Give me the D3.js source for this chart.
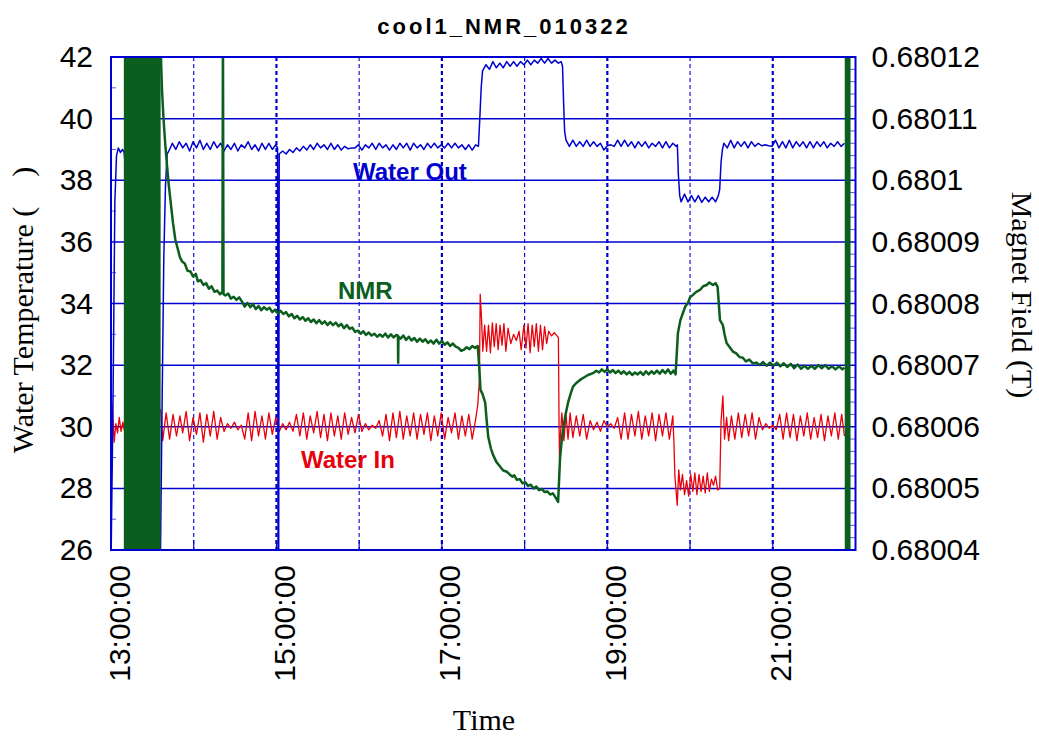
<!DOCTYPE html>
<html>
<head>
<meta charset="utf-8">
<script src="https://cdn.jsdelivr.net/npm/d3@7"></script>
<style>
  body { margin: 0; background: #fff; }
  text { font-family: "Liberation Sans", Arial, sans-serif; }
  .serif { font-family: "Liberation Serif", "Times New Roman", serif; }
</style>
</head>
<body>
<svg id="chart" width="1039" height="736"></svg>
<script>
// ---- data ---------------------------------------------------------------
const chartTitle = "cool1_NMR_010322";
const runStart = new Date(2001, 2, 22, 13, 0, 0);
const runEnd = new Date(2001, 2, 22, 22, 0, 0);
const timeTickHours = [13, 15, 17, 19, 21];
const gridHours = [14, 15, 16, 17, 18, 19, 20, 21];
const tempTicks = [26, 28, 30, 32, 34, 36, 38, 40, 42];
const fieldTicks = [0.68004, 0.68005, 0.68006, 0.68007, 0.68008, 0.68009, 0.6801, 0.68011, 0.68012];

// [minutes after 13:00, outlet water temperature in °C]
const waterOut = [
  [0,25.5],[1.5,31.0],[2.8,37.3],[4.0,38.8],[5.3,39.05],[6.8,38.9],[8.3,39.0],[9.5,38.9],
  [35.8,25.5],[37,30.5],[38.3,35.5],[39.5,37.8],[40.7,38.85],
  [42,38.95],[44.5,39.2],[47,39.0],[49.5,39.25],[52,39.05],[54.5,39.2],[57,38.95],[59.5,39.25],[62,39.05],[64.5,39.3],
  [67,39.0],[69.5,39.2],[72,39.0],[74.5,39.25],[77,39.05],[79.5,39.2],[82,38.95],[84.5,39.15],[87,39.0],[89.5,39.2],
  [92,38.95],[94.5,39.15],[97,39.05],[99.5,39.25],[102,39.0],[104.5,39.15],[107,38.95],[109.5,39.2],[112,39.0],
  [114.5,39.2],[117,39.0],[119.5,39.15],[120.8,39.05],[121.2,25.0],[121.6,25.0],[122,38.85],
  [124.5,38.95],[127,38.85],[129.5,39.0],[132,38.9],[134.5,39.05],[137,38.95],[139.5,39.1],[142,38.98],[144.5,39.15],
  [147,39.0],[149.5,39.2],[152,39.05],[154.5,39.15],[157,39.0],[159.5,39.2],[162,39.0],[164.5,39.15],[167,38.98],
  [169.5,39.1],[172,39.02],[174.5,39.05],[177,39.05],[179.5,39.15],[182,38.98],[184.5,39.15],[187,39.05],[189.5,39.2],
  [192,39.0],[194.5,39.2],[197,39.05],[199.5,39.15],[202,38.98],[204.5,39.15],[207,39.0],[209.5,39.2],[212,39.05],
  [214.5,39.2],[217,38.98],[219.5,39.2],[222,39.05],[224.5,39.15],[227,39.0],[229.5,39.2],[232,39.05],[234.5,39.2],
  [237,39.05],[239.5,39.15],[242,39.05],[244.5,39.2],[247,39.05],[249.5,39.2],[252,39.05],[254.5,39.15],[257,39.0],
  [259.5,39.15],[262,38.98],[264.5,39.15],[266.5,39.1],
  [267.5,40.0],[268.5,41.0],[269.5,41.55],[272,41.75],[274.5,41.6],[277,41.85],[279.5,41.65],[282,41.8],[284.5,41.65],
  [287,41.85],[289.5,41.7],[292,41.85],[294.5,41.7],[297,41.85],[299.5,41.75],[302,41.9],[304.5,41.75],[307,41.9],
  [309.5,41.8],[312,41.95],[314.5,41.8],[317,41.95],[319.5,41.8],[322,41.9],[324.5,41.8],[326.5,41.85],[327.5,41.7],
  [328.3,40.5],[329,39.6],[330,39.3],[332.5,39.1],[335,39.3],[337.5,39.1],[340,39.25],[342.5,39.1],[345,39.3],
  [347.5,39.1],[350,39.25],[352.5,39.1],[355,39.2],[357.5,38.98],[360,39.12],[362.5,39.15],[365,39.1],[367.5,39.3],
  [370,39.1],[372.5,39.3],[375,39.1],[377.5,39.25],[380,39.05],[382.5,39.25],[385,39.1],[387.5,39.25],[390,39.05],
  [392.5,39.2],[395,39.1],[397.5,39.25],[400,39.05],[402.5,39.25],[405,39.05],[407.5,39.2],[410,39.1],[410.8,39.15],
  [411.5,38.2],[412.5,37.5],[413.5,37.3],[416,37.55],[418.5,37.3],[421,37.5],[423.5,37.3],[426,37.5],[428.5,37.28],
  [431,37.45],[433.5,37.3],[436,37.45],[438.5,37.3],[440.5,37.5],[441.5,37.7],
  [442.5,38.6],[443.5,39.0],[444.5,39.2],[447,39.05],[449.5,39.3],[452,39.05],[454.5,39.25],[457,39.1],[459.5,39.25],
  [462,39.05],[464.5,39.25],[467,39.1],[469.5,39.2],[472,39.12],[474.5,39.15],[477,39.12],[479.5,39.1],[482,39.3],
  [484.5,39.05],[487,39.25],[489.5,39.05],[492,39.3],[494.5,39.05],[497,39.25],[499.5,39.1],[502,39.25],[504.5,39.05],
  [507,39.25],[509.5,39.05],[512,39.25],[514.5,39.1],[517,39.25],[519.5,39.05],[522,39.2],[524.5,39.1],[527,39.25],
  [529.5,39.1],[532,39.2]
];

// [minutes after 13:00, inlet water temperature in °C]
const waterIn = [
  [0,31.05],[1.2,30.45],[2.3,29.5],[3.5,30.1],[4.7,29.8],[6,30.3],[7.3,29.85],[8.6,30.15],[9.6,29.9],
  [36,30.55],[37.5,29.55],[40,30.45],[42.5,29.6],[45,30.4],[47.5,29.7],[50,30.35],[52,29.8],[54.5,30.5],[57,29.55],
  [59.5,30.3],[62,29.75],[64.5,30.45],[67,29.5],[69.5,30.4],[72,29.7],[74.5,30.5],[77,29.6],[79.5,30.3],[82,29.85],
  [84.5,30.1],[87,29.95],[89.5,30.15],[92,29.9],[94.5,30.05],[97,29.6],[99.5,30.45],[102,29.55],[104.5,30.5],
  [107,29.7],[109.5,30.35],[112,29.6],[114.5,30.45],[117,29.75],[119.5,30.3],[122,29.85],[124.5,30.1],[127,29.9],
  [129.5,30.15],[132,29.85],[134.5,30.4],[137,29.7],[139.5,30.45],[142,29.6],[144.5,30.35],[147,29.8],[149.5,30.5],
  [152,29.65],[154.5,30.4],[157,29.55],[159.5,30.45],[162,29.7],[164.5,30.35],[167,29.6],[169.5,30.45],[172,29.75],
  [174.5,30.3],[177,29.8],[179.5,30.4],[182,29.85],[184.5,30.1],[187,29.9],[189.5,30.05],[192,29.95],[194.5,30.2],
  [197,29.7],[199.5,30.4],[202,29.55],[204.5,30.45],[207,29.65],[209.5,30.5],[212,29.6],[214.5,30.35],[217,29.7],
  [219.5,30.45],[222,29.6],[224.5,30.4],[227,29.75],[229.5,30.45],[232,29.55],[234.5,30.35],[237,29.7],[239.5,30.45],
  [242,29.6],[244.5,30.3],[247,29.8],[249.5,30.45],[252,29.6],[254.5,30.35],[257,29.7],[259.5,30.4],[262,29.6],
  [264.5,30.25],[266,30.7],
  [267.2,31.5],[267.8,34.3],[268.7,33.55],[269.7,32.45],[271,33.3],[272.4,32.45],[273.8,33.3],[275.2,32.4],[276.6,33.37],
  [278,32.6],[279.4,33.35],[280.8,32.5],[282.2,33.3],[283.6,32.65],[285,33.35],[286.4,32.45],[288,33.2],[290,32.7],
  [292,33.0],[294,32.8],[296,33.1],[297.5,32.5],[299.5,33.3],[301,32.55],[302.5,33.35],[304,32.4],[305.5,33.3],
  [307,32.6],[308.5,33.35],[310,32.45],[311.5,33.3],[313,32.5],[314.5,33.25],[316,32.7],[317.5,33.1],[319.5,32.95],
  [321.5,33.05],[323.5,32.95],[324.5,32.9],
  [325,30.0],[325.3,29.0],[325.8,29.6],[327,30.45],[328.5,29.55],[330,30.4],[331.5,29.6],[333,30.45],[335,29.65],
  [337.5,30.35],[340,29.7],[342.5,30.4],[345,29.6],[347.5,30.2],[350,29.9],[352.5,30.15],[355,29.85],[357.5,30.2],
  [360,30.0],[362.5,30.1],[365,29.95],[367.5,30.3],[370,29.6],[372.5,30.45],[375,29.6],[377.5,30.4],[380,29.7],
  [382.5,30.5],[385,29.6],[387.5,30.35],[390,29.7],[392.5,30.45],[395,29.55],[397.5,30.4],[400,29.7],[402.5,30.45],
  [405,29.6],[407.5,30.35],
  [408.3,29.5],[409,28.4],[410.7,27.45],[411.8,28.6],[413,27.95],[414.5,28.45],[416,27.8],[417.5,28.25],[419,27.75],
  [420.5,28.45],[422,27.9],[423.5,28.5],[425,27.8],[426.5,28.45],[428,27.9],[429.5,28.4],[431,27.85],[432.5,28.5],
  [434,27.9],[435.5,28.3],[437,28.1],[438.5,28.4],[440,27.95],[441.5,28.0],
  [442.5,30.2],[443.8,31.0],[445,29.6],[446.5,30.3],[448,29.55],[450,30.35],[452.5,29.6],[455,30.45],[457.5,29.65],
  [460,30.4],[462.5,29.7],[465,30.45],[467.5,29.6],[470,30.3],[472.5,29.9],[475,30.1],[477.5,29.95],[480,30.05],
  [482.5,29.9],[485,30.4],[487.5,29.6],[490,30.45],[492.5,29.65],[495,30.4],[497.5,29.55],[500,30.35],[502.5,29.7],
  [505,30.45],[507.5,29.6],[510,30.3],[512.5,29.65],[515,30.4],[517.5,29.55],[520,30.35],[522.5,29.7],[525,30.45],
  [527.5,29.6],[530,30.4],[532,29.7]
];

// [minutes after 13:00, NMR field in tesla]
const nmrField = [
  [36,0.6801215],[37,0.6801146],[38,0.6801103],[39.3,0.6801060],[40.7,0.6801022],[42,0.6800990],[43.1,0.6800968],
  [45,0.6800930],[46.7,0.6800903],[48.5,0.6800888],[50,0.6800875],[51.6,0.6800868],[53.5,0.6800865],[55.5,0.6800853],
  [57.6,0.6800852],[59.5,0.6800844],[61.5,0.6800848],[63,0.6800836],[65,0.6800838],[67,0.6800830],[69,0.6800833],
  [71,0.6800824],[73,0.6800828],[75,0.6800819],[77,0.6800821],[79,0.6800815],[80.8,0.6800819],[81.2,0.6801250],
  [81.6,0.6800815],[83,0.6800813],[85,0.6800816],[87,0.6800808],[89,0.6800811],[91,0.6800806],[93,0.6800810],
  [95,0.6800803],[97,0.6800795],[99,0.6800801],[101,0.6800794],[103,0.6800799],[105,0.6800791],[107,0.6800796],
  [109,0.6800789],[111,0.6800794],[113,0.6800790],[115,0.6800793],[117,0.6800786],[119,0.6800790],[121,0.6800784],
  [123,0.6800788],[125,0.6800783],[127,0.6800786],[129,0.6800779],[131,0.6800783],[133,0.6800776],[135,0.6800780],
  [137,0.6800774],[139,0.6800778],[141,0.6800772],[143,0.6800776],[145,0.6800770],[147,0.6800774],[149,0.6800768],
  [151,0.6800773],[153,0.6800767],[155,0.6800771],[157,0.6800765],[159,0.6800770],[161,0.6800765],[163,0.6800769],
  [165,0.6800763],[167,0.6800767],[169,0.6800760],[171,0.6800765],[173,0.6800759],[175,0.6800761],[177,0.6800754],
  [179,0.6800756],[181,0.6800751],[183,0.6800755],[185,0.6800749],[187,0.6800753],[189,0.6800748],[191,0.6800751],
  [193,0.6800746],[195,0.6800750],[197,0.6800746],[199,0.6800751],[201,0.6800745],[203,0.6800750],[205,0.6800745],
  [207,0.6800749],[208.1,0.6800748],[208.3,0.6800704],[208.5,0.6800746],[210,0.6800743],[212,0.6800748],
  [214,0.6800741],[216,0.6800746],[218,0.6800740],[220,0.6800744],[222,0.6800738],[224,0.6800743],[226,0.6800738],
  [228,0.6800742],[230,0.6800736],[232,0.6800740],[234,0.6800735],[236,0.6800741],[238,0.6800735],[240,0.6800739],
  [242,0.6800733],[244,0.6800737],[246,0.6800731],[248,0.6800735],[250,0.6800730],[252,0.6800728],[254,0.6800723],
  [256,0.6800725],[258,0.6800729],[260,0.6800726],[262,0.6800731],[264,0.6800728],[266,0.6800731],
  [267,0.6800700],[268,0.6800660],[269.5,0.6800653],[271.4,0.6800639],[272.5,0.6800610],[273.6,0.6800584],
  [275.5,0.6800565],[277.2,0.6800554],[279.5,0.6800543],[282.3,0.6800535],[284.5,0.6800529],[287.1,0.6800527],
  [289,0.6800523],[291,0.6800519],[292.5,0.6800521],[294.3,0.6800514],[296.5,0.6800515],[298.5,0.6800508],
  [300.5,0.6800510],[302.5,0.6800504],[304.5,0.6800506],[306.5,0.6800500],[308.5,0.6800503],[310.5,0.6800497],
  [312.5,0.6800499],[314.5,0.6800494],[316.5,0.6800495],[318.5,0.6800490],[320.5,0.6800492],[322.5,0.6800485],
  [324.3,0.6800478],[325.7,0.6800549],[327,0.6800580],[327.9,0.6800595],[329.5,0.6800618],[331.5,0.6800639],
  [333.3,0.6800653],[335.1,0.6800665],[337.5,0.6800671],[340.2,0.6800676],[343,0.6800680],[346,0.6800684],
  [349.6,0.6800687],[352,0.6800691],[354,0.6800688],[356,0.6800693],[358,0.6800689],[360,0.6800693],[362,0.6800688],
  [364,0.6800692],[366,0.6800687],[368,0.6800691],[370,0.6800686],[372,0.6800690],[374,0.6800685],[376,0.6800689],
  [378,0.6800684],[380,0.6800688],[382,0.6800685],[384,0.6800689],[386,0.6800684],[388,0.6800690],[390,0.6800685],
  [392,0.6800690],[394,0.6800686],[396,0.6800691],[398,0.6800686],[400,0.6800692],[402,0.6800687],[404,0.6800693],
  [406,0.6800686],[408,0.6800691],[409.5,0.6800685],[411.2,0.6800752],[413,0.6800773],[414.9,0.6800785],
  [416.5,0.6800795],[418.5,0.6800801],[420,0.6800810],[422.1,0.6800814],[424.5,0.6800819],[427.2,0.6800822],
  [429.5,0.6800828],[432,0.6800830],[434,0.6800834],[436.6,0.6800830],[438.5,0.6800833],[440,0.6800827],
  [441.7,0.6800773],[443.8,0.6800765],[445,0.6800750],[446.5,0.6800736],[448.5,0.6800730],[451.1,0.6800722],
  [453.5,0.6800719],[456,0.6800713],[458.3,0.6800712],[460.5,0.6800706],[463,0.6800709],[465.5,0.6800703],
  [468.3,0.6800704],[470.5,0.6800700],[473,0.6800705],[475.5,0.6800699],[478,0.6800704],[480.5,0.6800699],
  [483,0.6800704],[485.5,0.6800698],[488,0.6800703],[490.5,0.6800697],[493,0.6800702],[495.5,0.6800695],
  [498,0.6800701],[500.5,0.6800694],[503,0.6800699],[505.5,0.6800694],[508,0.6800699],[510.5,0.6800694],
  [513,0.6800700],[515.5,0.6800695],[518,0.6800700],[520.5,0.6800694],[523,0.6800698],[525.5,0.6800693],
  [528,0.6800698],[530.5,0.6800693],[532,0.6800696]
];

// spans (minutes after 13:00) where the NMR probe lost lock and the trace swings past both limits
const nmrOffScale = [[9.3, 36.0], [532.2, 536.4]];

// ---- layout ---------------------------------------------------------------
const plot = { left: 111, top: 57, right: 855.5, bottom: 550 };
const BLUE = "#0000d0", RED = "#e8000b", GREEN = "#0b5e1e";

const svg = d3.select("#chart");
const atMinute = m => new Date(runStart.getTime() + m * 60000);
const atHour = h => new Date(2001, 2, 22, h, 0, 0);

const x = d3.scaleTime().domain([runStart, runEnd]).range([plot.left, plot.right]);
const yTemp = d3.scaleLinear().domain([26, 42]).range([plot.bottom, plot.top]);
const yField = d3.scaleLinear().domain([0.68004, 0.68012]).range([plot.bottom, plot.top]);

svg.append("defs").append("clipPath").attr("id", "plotClip")
  .append("rect").attr("x", plot.left).attr("y", plot.top)
  .attr("width", plot.right - plot.left).attr("height", plot.bottom - plot.top);

// title
svg.append("text").attr("x", 504).attr("y", 34).attr("text-anchor", "middle")
  .style("font-size", "22px").style("font-weight", "bold").style("letter-spacing", "3px")
  .text(chartTitle);

// grid
const grid = svg.append("g");
grid.selectAll(".hgrid").data(tempTicks.slice(1, -1)).join("line")
  .attr("x1", plot.left).attr("x2", plot.right)
  .attr("y1", d => yTemp(d)).attr("y2", d => yTemp(d))
  .attr("stroke", BLUE).attr("stroke-width", 1.5);
grid.selectAll(".vgrid").data(gridHours).join("line")
  .attr("x1", d => x(atHour(d))).attr("x2", d => x(atHour(d)))
  .attr("y1", plot.top).attr("y2", plot.bottom)
  .attr("stroke", BLUE).attr("stroke-width", d => d % 2 ? 2.2 : 1.1)
  .attr("stroke-dasharray", "4,3");
grid.selectAll(".xtick").data(gridHours).join("line")
  .attr("x1", d => x(atHour(d))).attr("x2", d => x(atHour(d)))
  .attr("y1", plot.bottom - 10).attr("y2", plot.bottom)
  .attr("stroke", BLUE).attr("stroke-width", 1.2);

// minor ticks on both value axes
const tempMinor = d3.range(27, 42, 2);
grid.selectAll(".lminor").data(tempMinor).join("line")
  .attr("x1", plot.left).attr("x2", plot.left + 5)
  .attr("y1", d => yTemp(d)).attr("y2", d => yTemp(d))
  .attr("stroke", "#5a5ae0").attr("stroke-width", 1);
const fieldMinor = d3.range(0, 41).filter(i => i % 5).map(i => 0.68004 + i * 0.000002);
grid.selectAll(".rminor").data(fieldMinor).join("line")
  .attr("x1", plot.right - 6).attr("x2", plot.right)
  .attr("y1", d => yField(d)).attr("y2", d => yField(d))
  .attr("stroke", "#5a5ae0").attr("stroke-width", 1);

// series
const series = svg.append("g").attr("clip-path", "url(#plotClip)");
const tempLine = d3.line().x(d => x(atMinute(d[0]))).y(d => yTemp(d[1]));
const fieldLine = d3.line().x(d => x(atMinute(d[0]))).y(d => yField(d[1]));

series.append("path").datum(waterIn).attr("d", tempLine)
  .attr("fill", "none").attr("stroke", RED).attr("stroke-width", 1.3).attr("stroke-linejoin", "round");
series.append("path").datum(waterOut).attr("d", tempLine)
  .attr("fill", "none").attr("stroke", BLUE).attr("stroke-width", 1.5).attr("stroke-linejoin", "round");
series.append("path").datum(nmrField).attr("d", fieldLine)
  .attr("fill", "none").attr("stroke", GREEN).attr("stroke-width", 2.5).attr("stroke-linejoin", "round");
series.selectAll(".offscale").data(nmrOffScale).join("rect")
  .attr("x", d => x(atMinute(d[0])))
  .attr("width", d => x(atMinute(d[1])) - x(atMinute(d[0])))
  .attr("y", yField(0.68012)).attr("height", yField(0.68004) - yField(0.68012))
  .attr("fill", GREEN);

// frame
svg.append("rect").attr("x", plot.left).attr("y", plot.top)
  .attr("width", plot.right - plot.left).attr("height", plot.bottom - plot.top)
  .attr("fill", "none").attr("stroke", BLUE).attr("stroke-width", 2);

// axes
const fmtField = d => String(+d.toFixed(5));
const leftAxis = svg.append("g").attr("transform", `translate(${plot.left},0)`)
  .call(d3.axisLeft(yTemp).tickValues(tempTicks).tickSize(0).tickPadding(18));
const rightAxis = svg.append("g").attr("transform", `translate(${plot.right},0)`)
  .call(d3.axisRight(yField).tickValues(fieldTicks).tickFormat(fmtField).tickSize(0).tickPadding(16));
const bottomAxis = svg.append("g").attr("transform", `translate(0,${plot.bottom})`)
  .call(d3.axisBottom(x).tickValues(timeTickHours.map(atHour)).tickFormat(d3.timeFormat("%H:%M:%S")).tickSize(0));
[leftAxis, rightAxis, bottomAxis].forEach(g => {
  g.select(".domain").remove();
  g.selectAll("text").style("font-size", "30px").attr("fill", "#000")
    .style("font-family", "'Liberation Sans', Arial, sans-serif");
});
bottomAxis.selectAll("text")
  .attr("transform", "rotate(-90)").attr("x", -15).attr("y", 0).attr("dy", "18px")
  .style("text-anchor", "end");

// axis titles
svg.append("text").attr("class", "serif")
  .attr("transform", "translate(33,310) rotate(-90)").attr("text-anchor", "middle")
  .style("font-size", "30px").text("Water Temperature (\u2003)");
svg.append("text").attr("class", "serif")
  .attr("transform", "translate(1012,295) rotate(90)").attr("text-anchor", "middle")
  .style("font-size", "30px").text("Magnet Field (T)");
svg.append("text").attr("class", "serif")
  .attr("x", 484).attr("y", 730).attr("text-anchor", "middle")
  .style("font-size", "30px").text("Time");

// series labels
const labels = [
  { text: "Water Out", x: 353, y: 180, color: BLUE },
  { text: "NMR", x: 338, y: 299, color: GREEN },
  { text: "Water In", x: 301, y: 468, color: RED }
];
svg.selectAll(".serieslabel").data(labels).join("text")
  .attr("x", d => d.x).attr("y", d => d.y).attr("fill", d => d.color)
  .style("font-size", "24px").style("font-weight", "bold").text(d => d.text);
</script>
</body>
</html>
